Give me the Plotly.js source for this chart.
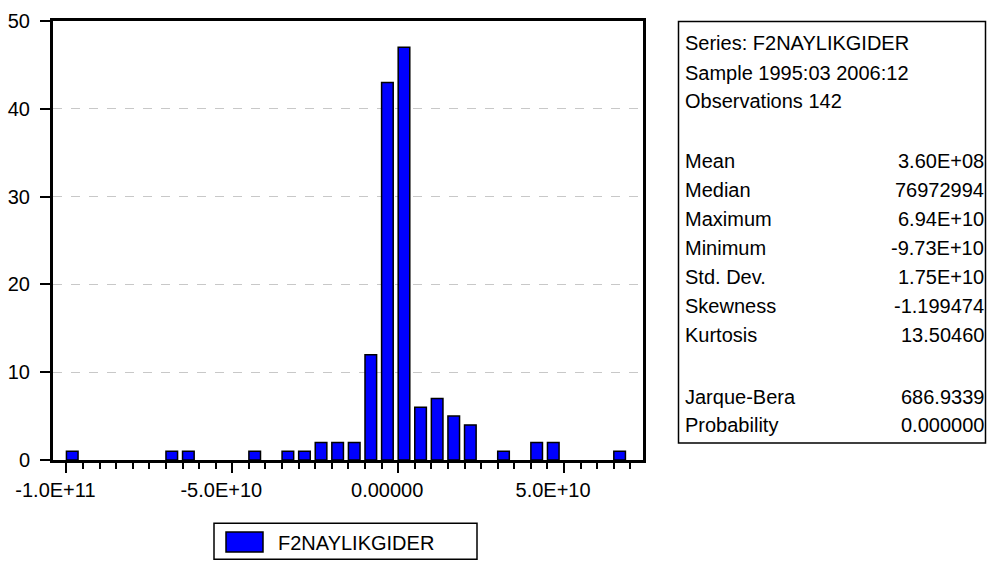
<!DOCTYPE html>
<html>
<head>
<meta charset="utf-8">
<script src="https://cdn.plot.ly/plotly-3.0.1.min.js"></script>
<style>html,body{margin:0;padding:0;background:#fff;}#chart{width:987px;height:561px;}</style>
</head>
<body>
<div id="chart"></div>
<script>
// ---- data ----
var seriesName = "F2NAYLIKGIDER";
var binLeft = [-1.0e11, -7.0e10, -6.5e10, -4.5e10, -3.5e10, -3.0e10, -2.5e10, -2.0e10, -1.5e10, -1.0e10, -5.0e9, 0, 5.0e9, 1.0e10, 1.5e10, 2.0e10, 3.0e10, 4.0e10, 4.5e10, 6.5e10];
var counts  = [1, 1, 1, 1, 1, 1, 2, 2, 2, 12, 43, 47, 6, 7, 5, 4, 1, 2, 2, 1];
var binWidth = 5.0e9;
var xTickVals = [-1.0e11, -5.0e10, 0, 5.0e10];
var xTickText = ["-1.0E+11", "-5.0E+10", "0.00000", "5.0E+10"];
var headerLines = ["Series: F2NAYLIKGIDER", "Sample 1995:03 2006:12", "Observations 142"];
var statNames  = ["Mean", "Median", "Maximum", "Minimum", "Std. Dev.", "Skewness", "Kurtosis"];
var statValues = ["3.60E+08", "76972994", "6.94E+10", "-9.73E+10", "1.75E+10", "-1.199474", "13.50460"];
var testNames  = ["Jarque-Bera", "Probability"];
var testValues = ["686.9339", "0.000000"];

// ---- layout geometry (pixels) ----
var W = 987, H = 561;
var L = 53, R = 643, T = 21, B = 460;
function px(x){ return (x - L) / (R - L); }
function py(y){ return (B - y) / (B - T); }
var FONT = "Liberation Sans, Arial, sans-serif";

var trace = {
  type: "bar",
  x: binLeft,
  y: counts,
  width: binWidth * 0.7,
  offset: 0,
  name: seriesName,
  marker: {color: "#0000ff", line: {color: "#000000", width: 1.5}},
  showlegend: false,
  hoverinfo: "x+y"
};

var annotations = [];
var shapes = [];
// stats box
shapes.push({type: "rect", xref: "paper", yref: "paper", x0: px(678.5), x1: px(985.5), y0: py(443), y1: py(21.5), line: {color: "#000", width: 1.5}, fillcolor: "rgba(0,0,0,0)"});
var headerY = [43.3, 73.3, 100.7];
headerLines.forEach(function(t, i){
  annotations.push({xref: "paper", yref: "paper", x: px(683), y: py(headerY[i]), xanchor: "left", yanchor: "middle", text: t, showarrow: false, font: {family: FONT, size: 20, color: "#000"}});
});
var statY = [160.7, 190, 219, 248.3, 276.7, 306, 335];
statNames.forEach(function(t, i){
  annotations.push({xref: "paper", yref: "paper", x: px(683), y: py(statY[i]), xanchor: "left", yanchor: "middle", text: t, showarrow: false, font: {family: FONT, size: 20, color: "#000"}});
  annotations.push({xref: "paper", yref: "paper", x: px(986), y: py(statY[i]), xanchor: "right", yanchor: "middle", text: statValues[i], showarrow: false, font: {family: FONT, size: 20, color: "#000"}});
});
var testY = [396.7, 425];
testNames.forEach(function(t, i){
  annotations.push({xref: "paper", yref: "paper", x: px(683), y: py(testY[i]), xanchor: "left", yanchor: "middle", text: t, showarrow: false, font: {family: FONT, size: 20, color: "#000"}});
  annotations.push({xref: "paper", yref: "paper", x: px(986), y: py(testY[i]), xanchor: "right", yanchor: "middle", text: testValues[i], showarrow: false, font: {family: FONT, size: 20, color: "#000"}});
});
// legend box
shapes.push({type: "rect", xref: "paper", yref: "paper", x0: px(214), x1: px(477), y0: py(559.3), y1: py(523.3), line: {color: "#000", width: 1.5}, fillcolor: "#fff"});
shapes.push({type: "rect", xref: "paper", yref: "paper", x0: px(226), x1: px(263), y0: py(552), y1: py(532), line: {color: "#000", width: 1.5}, fillcolor: "#0000ff"});
annotations.push({xref: "paper", yref: "paper", x: px(276), y: py(543), xanchor: "left", yanchor: "middle", text: seriesName, showarrow: false, font: {family: FONT, size: 20, color: "#000"}});

var layout = {
  width: W, height: H,
  margin: {l: L, r: W - R, t: T, b: H - B, pad: 0},
  paper_bgcolor: "#fff", plot_bgcolor: "#fff",
  font: {family: FONT, size: 20, color: "#000"},
  bargap: 0,
  xaxis: {
    range: [-1.0405e11, 7.38e10],
    tickmode: "array", tickvals: xTickVals, ticktext: xTickText,
    ticks: "outside", ticklen: 10, tickwidth: 2, tickcolor: "#000",
    ticklabelshift: -11,
    showline: true, linewidth: 3, linecolor: "#000", mirror: true,
    showgrid: false, zeroline: false,
    minor: {tickmode: "linear", tick0: 0, dtick: 5e9, ticks: "outside", ticklen: 6, tickwidth: 2, tickcolor: "#000", showgrid: false},
    tickfont: {family: FONT, size: 20, color: "#000"},
    fixedrange: true
  },
  yaxis: {
    range: [0, 50],
    tickmode: "linear", tick0: 0, dtick: 10,
    ticks: "outside", ticklen: 10, tickwidth: 2, tickcolor: "#000",
    ticklabelstandoff: 6,
    showline: true, linewidth: 3, linecolor: "#000", mirror: true,
    showgrid: true, gridcolor: "#c8c8c8", griddash: "dash", gridwidth: 1,
    zeroline: false,
    tickfont: {family: FONT, size: 20, color: "#000"},
    fixedrange: true
  },
  shapes: shapes,
  annotations: annotations,
  showlegend: false
};

Plotly.newPlot("chart", [trace], layout, {displayModeBar: false, staticPlot: true});
</script>
</body>
</html>
